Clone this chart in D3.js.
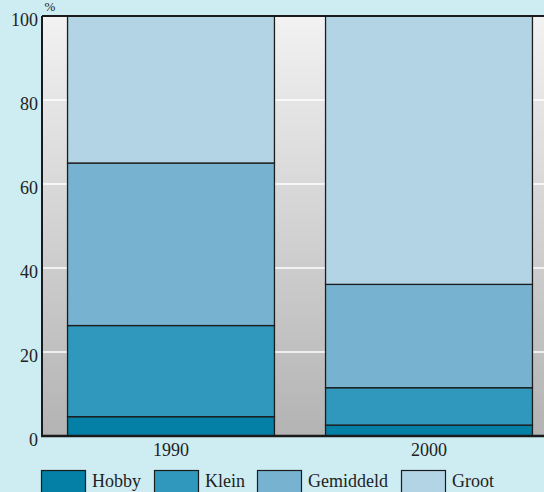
<!DOCTYPE html>
<html>
<head>
<meta charset="utf-8">
<script src="https://cdn.jsdelivr.net/npm/d3@7"></script>
<style>
  html, body { margin: 0; padding: 0; background: #cdedf3; overflow: hidden; }
  svg { display: block; font-family: "Liberation Serif", "DejaVu Serif", serif; }
</style>
</head>
<body>
<script>
// data
const years = ["1990", "2000"];
const series = ["Hobby", "Klein", "Gemiddeld", "Groot"];
const hobby = [4.6, 2.6];
const klein = [21.7, 8.9];
const gemiddeld = [38.7, 24.6];
const groot = [35.0, 63.9];
const yTicks = [0, 20, 40, 60, 80, 100];

const colors = ["#047fa6", "#3098bc", "#77b3d1", "#b3d4e5"];

const W = 544, H = 492;
let margin = {top: 16, left: 42}
  , plotBottom = 436
  , plotRight = 558; // plot runs past the window edge

const table = years.map((y, i) => ({
  year: y, Hobby: hobby[i], Klein: klein[i], Gemiddeld: gemiddeld[i], Groot: groot[i]
}));
const stacked = d3.stack().keys(series)(table);

let xScale = d3.scaleBand().domain(years).range([margin.left, plotRight]).paddingInner(0.198).paddingOuter(0.099);
let yScale = d3.scaleLinear().domain([0, 100]).range([plotBottom, margin.top]);
let color = d3.scaleOrdinal().domain(series).range(colors);

const svg = d3.select("body").append("svg")
  .attr("width", W)
  .attr("height", H);

// background gradient of the plot area
const grad = svg.append("defs").append("linearGradient")
  .attr("id", "bg").attr("x1", 0).attr("y1", 0).attr("x2", 0).attr("y2", 1);
grad.append("stop").attr("offset", 0).attr("stop-color", "#f2f2f2");
grad.append("stop").attr("offset", 1).attr("stop-color", "#b3b3b3");

svg.append("rect")
  .attr("x", margin.left).attr("y", margin.top)
  .attr("width", plotRight - margin.left)
  .attr("height", plotBottom - margin.top)
  .attr("fill", "url(#bg)");

// white gridlines
svg.selectAll(".grid")
  .data(yTicks.filter(d => d > 0 && d < 100))
  .enter().append("line")
  .attr("class", "grid")
  .attr("x1", margin.left).attr("x2", plotRight)
  .attr("y1", d => yScale(d)).attr("y2", d => yScale(d))
  .attr("stroke", "#ffffff").attr("stroke-width", 1.5);

// stacked bars
svg.selectAll(".layer")
  .data(stacked)
  .enter().append("g")
  .attr("class", "layer")
  .attr("fill", d => color(d.key))
  .selectAll("rect")
  .data(d => d)
  .enter().append("rect")
  .attr("x", d => xScale(d.data.year))
  .attr("y", d => yScale(d[1]))
  .attr("width", xScale.bandwidth())
  .attr("height", d => yScale(d[0]) - yScale(d[1]))
  .attr("stroke", "#1c1c1c")
  .attr("stroke-width", 1.3);

// frame lines: top, left, bottom
svg.append("line")
  .attr("x1", margin.left).attr("x2", plotRight)
  .attr("y1", margin.top).attr("y2", margin.top)
  .attr("stroke", "#1a1a1a").attr("stroke-width", 2);
svg.append("line")
  .attr("x1", margin.left).attr("x2", margin.left)
  .attr("y1", margin.top).attr("y2", plotBottom + 1)
  .attr("stroke", "#1a1a1a").attr("stroke-width", 2);
svg.append("line")
  .attr("x1", margin.left - 1).attr("x2", plotRight)
  .attr("y1", plotBottom).attr("y2", plotBottom)
  .attr("stroke", "#1a1a1a").attr("stroke-width", 2.5);

// y axis
const yAxis = svg.append("g")
  .attr("transform", "translate(" + margin.left + ",0)")
  .call(d3.axisLeft(yScale).tickValues(yTicks).tickSize(0).tickPadding(4));
yAxis.select(".domain").remove();
yAxis.selectAll("text")
  .attr("dy", "0.55em")
  .attr("fill", "#222")
  .style("font-size", "18px")
  .style("font-family", "'Liberation Serif', serif");

// x axis
const xAxis = svg.append("g")
  .attr("transform", "translate(0," + plotBottom + ")")
  .call(d3.axisBottom(xScale).tickSize(0));
xAxis.select(".domain").remove();
xAxis.selectAll("text")
  .attr("y", 20).attr("dy", 0)
  .attr("fill", "#222")
  .style("font-size", "18px")
  .style("font-family", "'Liberation Serif', serif");

// unit label
svg.append("text")
  .attr("x", 50).attr("y", 11)
  .attr("text-anchor", "middle")
  .attr("fill", "#222")
  .style("font-size", "13px")
  .text("%");

// legend
const legendX = [41, 154, 257, 401];
const legend = svg.selectAll(".legend")
  .data(series)
  .enter().append("g")
  .attr("class", "legend")
  .attr("transform", (d, i) => "translate(" + legendX[i] + ",470)");
legend.append("rect")
  .attr("x", 0.5).attr("y", 0.5)
  .attr("width", 44).attr("height", 26)
  .attr("fill", d => color(d))
  .attr("stroke", "#1c1c1c").attr("stroke-width", 1.2);
legend.append("text")
  .attr("x", 51).attr("y", 17)
  .attr("fill", "#222")
  .style("font-size", "18px")
  .text(d => d);
</script>
</body>
</html>
